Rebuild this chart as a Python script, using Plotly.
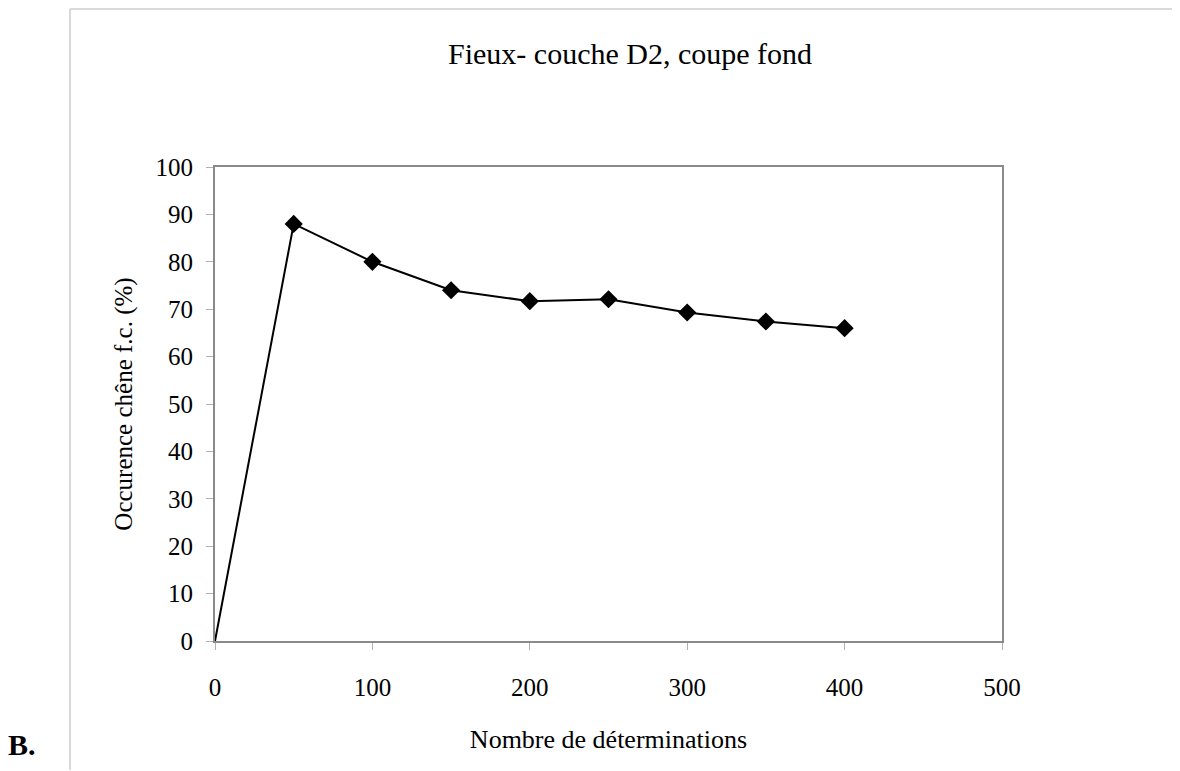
import plotly.graph_objects as go

# data
determinations = [0, 50, 100, 150, 200, 250, 300, 350, 400]
occurrence = [0, 88, 80, 74, 71.7, 72.1, 69.3, 67.4, 66.0]

x_ticks = [0, 100, 200, 300, 400, 500]
y_ticks = [0, 10, 20, 30, 40, 50, 60, 70, 80, 90, 100]

serif = "Liberation Serif, Times New Roman, serif"

fig = go.Figure()
fig.add_trace(go.Scatter(
    x=determinations, y=occurrence,
    mode="lines",
    line=dict(color="black", width=2),
    showlegend=False,
))
# the origin point carries no marker in the original
fig.add_trace(go.Scatter(
    x=determinations[1:], y=occurrence[1:],
    mode="markers",
    marker=dict(symbol="diamond", size=14, color="black"),
    showlegend=False,
))

# page has an 8px body margin; plot area in page px: left 215, right 1002, top 167, bottom 641
pw, ph = 1002 - 215, 641 - 167

def px_x(v):
    return (v - 215) / pw

def px_y(v):
    return (641 - v) / ph

fig.update_layout(
    width=1172, height=763,
    margin=dict(l=207, r=178, t=159, b=130),
    paper_bgcolor="white", plot_bgcolor="white",
    font=dict(family=serif, size=25, color="black"),
    xaxis=dict(
        range=[0, 500], tickvals=x_ticks, showgrid=False, zeroline=False,
        showline=True, linecolor="#8a8a8a", linewidth=2, mirror=True,
        ticks="outside", ticklen=7, tickcolor="#b0b0b0", tickwidth=1,
        ticklabelstandoff=16,
        title=dict(text="Nombre de déterminations", standoff=30, font=dict(size=26)),
    ),
    yaxis=dict(
        range=[0, 100], tickvals=y_ticks, showgrid=False, zeroline=False,
        showline=True, linecolor="#8a8a8a", linewidth=2, mirror=True,
        ticks="outside", ticklen=7, tickcolor="#b0b0b0", tickwidth=1,
        ticklabelstandoff=8,
        title=dict(text="Occurence chêne f.c. (%)", standoff=16, font=dict(size=25)),
    ),
    annotations=[
        dict(text="Fieux- couche D2, coupe fond", xref="paper", yref="paper",
             x=px_x(630), y=px_y(53), xanchor="center", yanchor="middle",
             showarrow=False, font=dict(size=30)),
        dict(text="<b>B.</b>", xref="paper", yref="paper",
             x=px_x(22), y=px_y(744), xanchor="center", yanchor="middle",
             showarrow=False, font=dict(size=30)),
    ],
    shapes=[
        dict(type="line", xref="paper", yref="paper",
             x0=px_x(70), x1=px_x(1179), y0=px_y(9), y1=px_y(9),
             line=dict(color="#d9d9d9", width=2)),
        dict(type="line", xref="paper", yref="paper",
             x0=px_x(70), x1=px_x(70), y0=px_y(9), y1=px_y(770),
             line=dict(color="#d9d9d9", width=2)),
    ],
)

fig.write_html("out.html")
